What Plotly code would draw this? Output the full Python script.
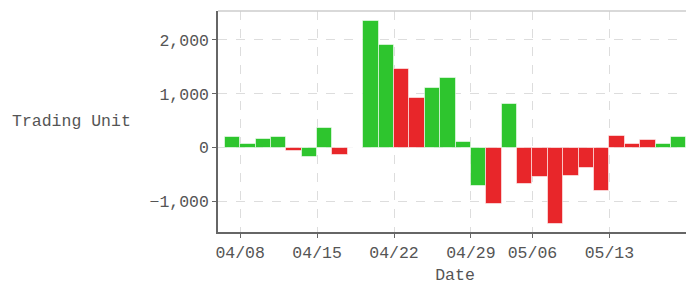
import plotly.graph_objects as go

dates = ["04/03", "04/08", "04/09", "04/10", "04/11", "04/12", "04/15", "04/16", "04/17", "04/18",
         "04/19", "04/22", "04/23", "04/24", "04/25", "04/26", "04/29", "04/30", "05/02", "05/03",
         "05/06", "05/07", "05/08", "05/09", "05/10", "05/13", "05/14", "05/15", "05/16", "05/17"]
trading_units = [190, 63, 155, 190, -63, -175, 360, -135, 0, 2340,
                 1900, 1455, 930, 1100, 1295, 110, -710, -1035, 810, -665,
                 -540, -1405, -525, -370, -800, 225, 65, 145, 70, 205]
direction = ["down", "down", "down", "down", "up", "down", "down", "up", "down", "down",
             "down", "up", "up", "down", "down", "down", "down", "up", "down", "up",
             "up", "up", "up", "up", "up", "up", "up", "up", "down", "down"]
tick_labels = ["04/08", "04/15", "04/22", "04/29", "05/06", "05/13"]
y_ticks = [-1000, 0, 1000, 2000]

GREEN = "#2ec52e"
RED = "#e8262a"
colors = [RED if d == "up" else GREEN for d in direction]
x_idx = list(range(len(dates)))
tick_vals = [dates.index(t) for t in tick_labels]

FONT = "Liberation Mono"
TXT = "#555555"
FS = 16.5

fig = go.Figure()
fig.add_trace(go.Bar(
    x=x_idx, y=trading_units, width=1, offset=0,
    marker=dict(color=colors, line=dict(color="rgba(255,255,255,0.55)", width=1)),
    hovertext=dates,
))

fig.update_layout(
    width=686, height=277,
    margin=dict(l=210, r=2, t=3, b=53),
    paper_bgcolor="white", plot_bgcolor="white",
    showlegend=False, bargap=0,
    font=dict(family=FONT, size=FS, color=TXT),
    xaxis=dict(
        range=[-0.44, 30.37],
        tickmode="array", tickvals=tick_vals, ticktext=tick_labels,
        showgrid=True, gridcolor="#dddddd", griddash="dash", gridwidth=1,
        showline=True, linecolor="#666666", linewidth=1.5,
        ticks="outside", ticklen=4, tickcolor="#666666",
        zeroline=False,
        title=dict(text="Date", standoff=8, font=dict(family=FONT, size=FS, color=TXT)),
    ),
    yaxis=dict(
        range=[-1561, 2532],
        tickmode="array", tickvals=y_ticks, tickformat=",d",
        showgrid=True, gridcolor="#dddddd", griddash="dash", gridwidth=1,
        showline=True, linecolor="#666666", linewidth=1.5,
        ticks="outside", ticklen=4, tickcolor="#666666",
        zeroline=False,
    ),
    shapes=[
        dict(type="line", xref="paper", yref="paper", x0=0, x1=1, y0=1, y1=1,
             line=dict(color="#cccccc", width=1.5)),
        dict(type="line", xref="paper", yref="paper", x0=1, x1=1, y0=0, y1=1,
             line=dict(color="#cccccc", width=1.5)),
    ],
    annotations=[
        dict(text="Trading Unit", xref="paper", yref="paper", x=-0.439, y=0.5,
             xanchor="left", yanchor="middle", showarrow=False,
             font=dict(family=FONT, size=FS, color=TXT)),
    ],
)

fig.write_html("out.html")
